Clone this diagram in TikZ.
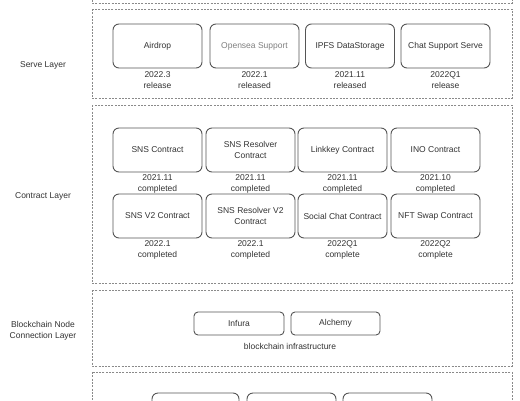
\documentclass[tikz,border=0pt]{standalone}
\usepackage{fontspec}
\setmainfont{Liberation Sans}
\definecolor{txt}{HTML}{333333}
\definecolor{edge}{HTML}{555555}
\definecolor{dash}{HTML}{8A8A8A}
\begin{document}
\begin{tikzpicture}[x=1pt,y=-1pt,
  every node/.style={font=\fontsize{8.5}{11}\selectfont, text=txt, inner sep=0pt},
  layer/.style={draw=dash, line width=0.8pt, dash pattern=on 2pt off 1.3pt},
  item/.style={draw=edge, line width=0.9pt, rounded corners=6pt, minimum width=89pt, minimum height=44pt, align=center},
  small/.style={draw=edge, line width=0.9pt, rounded corners=4pt, minimum width=90pt, minimum height=23pt, align=center},
  note/.style={align=center},
  side/.style={align=center}]
\useasboundingbox (0,0) rectangle (520,400);
\clip (0,0) rectangle (520,400);
\fill[white] (0,0) rectangle (520,400);
% layer frames
\draw[layer] (92,-40) rectangle (512,3);
\draw[layer] (92,9) rectangle (512,98);
\draw[layer] (92,105) rectangle (512,283);
\draw[layer] (92,290) rectangle (512,366);
\draw[layer] (92,372) rectangle (512,440);
% side labels
\node[side] (lserve) at (43,65) {Serve Layer};
\node[side] (lcontract) at (43,196) {Contract Layer};
\node[side] (lchain) at (43,330.5) {Blockchain Node\\Connection Layer};
% serve layer
\node[item] (airdrop) at (157.5,46) {Airdrop};
\node[item, text=gray] (opensea) at (254.5,46) {Opensea Support};
\node[item] (ipfs) at (350,46) {IPFS DataStorage};
\node[item] (chat) at (445.5,46) {Chat Support Serve};
\node[note] (nairdrop) at (157.5,80.5) {2022.3\\release};
\node[note] (nopensea) at (254.5,80.5) {2022.1\\released};
\node[note] (nipfs) at (350,80.5) {2021.11\\released};
\node[note] (nchat) at (445.5,80.5) {2022Q1\\release};
% contract layer row 1
\node[item] (sns) at (157.5,150) {SNS Contract};
\node[item] (snsres) at (250.5,150) {SNS Resolver\\Contract};
\node[item] (linkkey) at (342.5,150) {Linkkey Contract};
\node[item] (ino) at (435.5,150) {INO Contract};
\node[note] (nsns) at (157.5,183.5) {2021.11\\completed};
\node[note] (nsnsres) at (250.5,183.5) {2021.11\\completed};
\node[note] (nlinkkey) at (342.5,183.5) {2021.11\\completed};
\node[note] (nino) at (435.5,183.5) {2021.10\\completed};
% contract layer row 2
\node[item] (snsv2) at (157.5,216) {SNS V2 Contract};
\node[item] (snsresv2) at (250.5,216) {SNS Resolver V2\\Contract};
\node[item] (social) at (342.5,216) {Social Chat Contract};
\node[item] (nft) at (435.5,216) {NFT Swap Contract};
\node[note] (nsnsv2) at (157.5,249.5) {2022.1\\completed};
\node[note] (nsnsresv2) at (250.5,249.5) {2022.1\\completed};
\node[note] (nsocial) at (342.5,249.5) {2022Q1\\complete};
\node[note] (nnft) at (435.5,249.5) {2022Q2\\complete};
% blockchain layer
\node[small] (infura) at (239,323.5) {Infura};
\node[small, minimum width=89pt] (alchemy) at (335.5,323.5) {Alchemy};
\node[note] (infra) at (290,346) {blockchain infrastructure};
% bottom layer (partly visible)
\node[item, minimum width=87pt] (b1) at (195.5,415) {};
\node[item] (b2) at (291.5,415) {};
\node[item] (b3) at (387.5,415) {};
\end{tikzpicture}
\end{document}
